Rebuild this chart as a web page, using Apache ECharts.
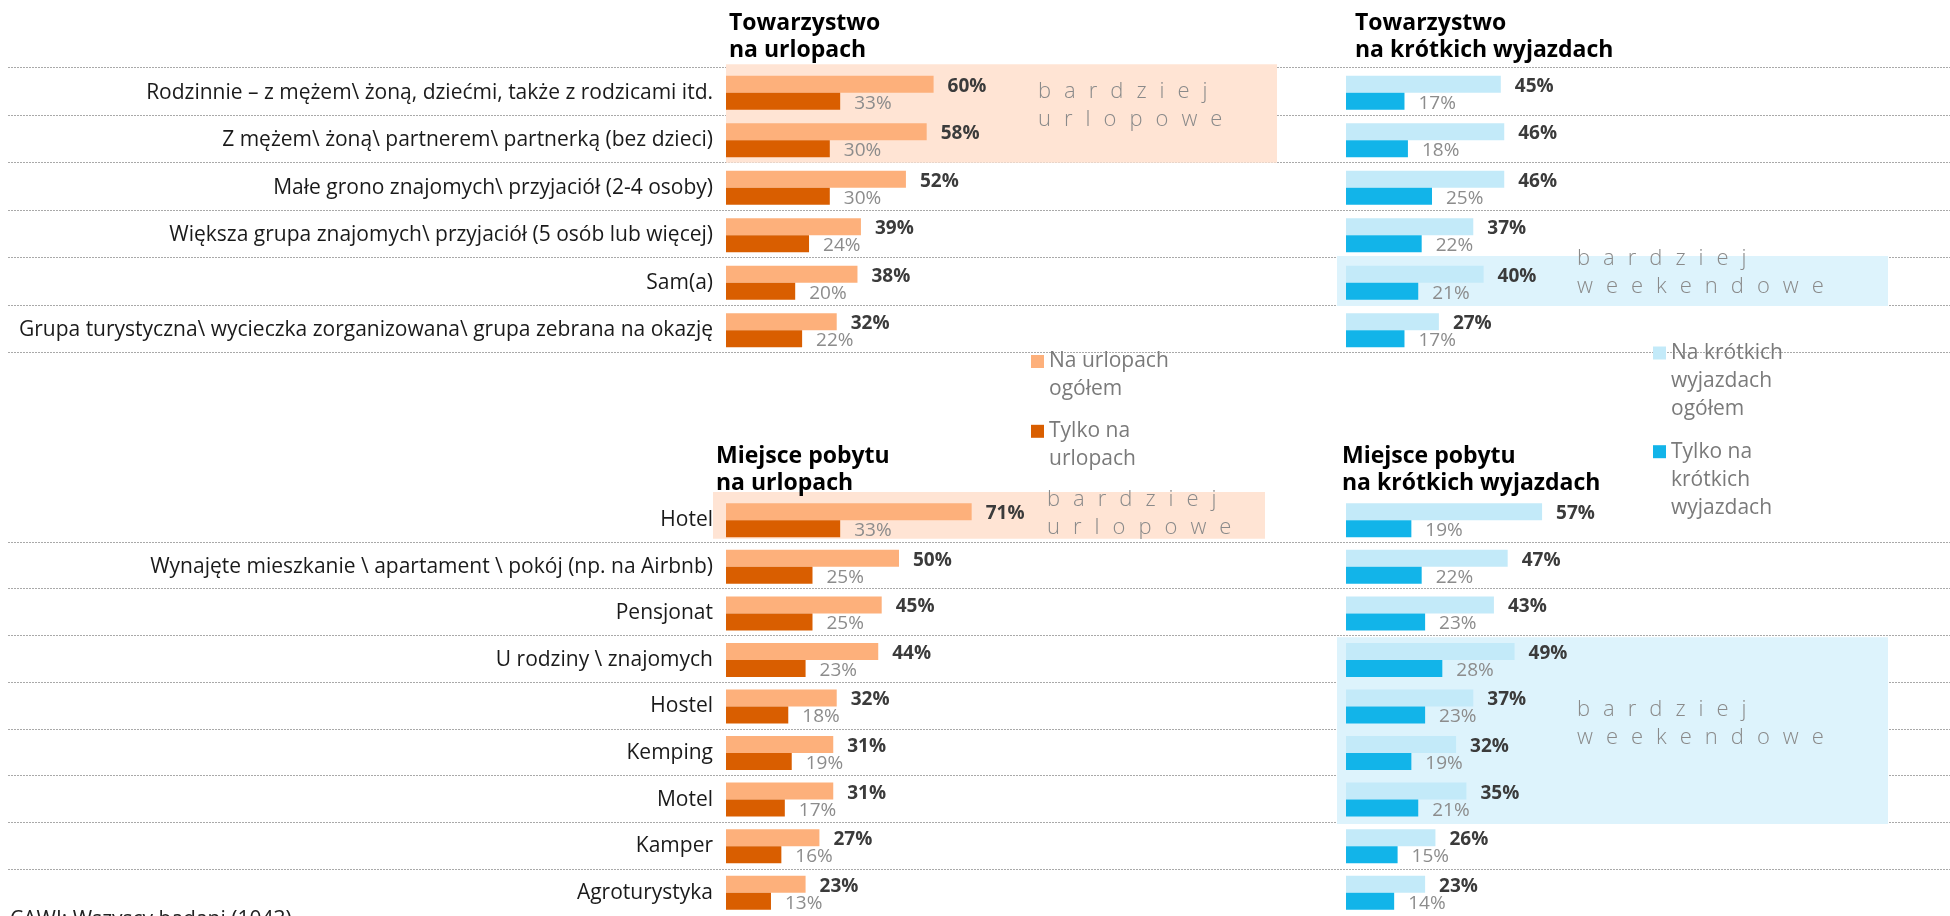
<!DOCTYPE html>
<html>
<head>
<meta charset="utf-8">
<script src="https://cdn.jsdelivr.net/npm/echarts@6/dist/echarts.min.js"></script>
<style>
html, body { margin: 0; padding: 0; background: #fff; }
#main { width: 1950px; height: 916px; }
</style>
</head>
<body>
<div id="main"></div>
<script>
// kategorie - towarzystwo
var companyCats = [
  'Rodzinnie – z mężem\\ żoną, dziećmi, także z rodzicami itd.',
  'Z mężem\\ żoną\\ partnerem\\ partnerką (bez dzieci)',
  'Małe grono znajomych\\ przyjaciół (2-4 osoby)',
  'Większa grupa znajomych\\ przyjaciół (5 osób lub więcej)',
  'Sam(a)',
  'Grupa turystyczna\\ wycieczka zorganizowana\\ grupa zebrana na okazję'
];
var companyVacAll = [60, 58, 52, 39, 38, 32];
var companyVacOnly = [33, 30, 30, 24, 20, 22];
var companyShortAll = [45, 46, 46, 37, 40, 27];
var companyShortOnly = [17, 18, 25, 22, 21, 17];

// kategorie - miejsce pobytu
var placeCats = [
  'Hotel',
  'Wynajęte mieszkanie \\ apartament \\ pokój (np. na Airbnb)',
  'Pensjonat',
  'U rodziny \\ znajomych',
  'Hostel',
  'Kemping',
  'Motel',
  'Kamper',
  'Agroturystyka'
];
var placeVacAll = [71, 50, 45, 44, 32, 31, 31, 27, 23];
var placeVacOnly = [33, 25, 25, 23, 18, 19, 17, 16, 13];
var placeShortAll = [57, 47, 43, 49, 37, 32, 35, 26, 23];
var placeShortOnly = [19, 22, 23, 28, 23, 19, 21, 15, 14];

var seriesNames = ['Na urlopach ogółem', 'Tylko na urlopach', 'Na krótkich wyjazdach ogółem', 'Tylko na krótkich wyjazdach'];
// puste linie na początku, żeby ikona stała przy pierwszej linii
var legendTexts = {
  'Na urlopach ogółem': ' \nNa urlopach\nogółem',
  'Tylko na urlopach': ' \nTylko na\nurlopach',
  'Na krótkich wyjazdach ogółem': ' \n \nNa krótkich\nwyjazdach\nogółem',
  'Tylko na krótkich wyjazdach': ' \n \nTylko na\nkrótkich\nwyjazdach'
};

var FONT = 'Open Sans';
var colors = ['#FDB07B', '#D95E00', '#C3EAF9', '#12B4E9'];

var chart = echarts.init(document.getElementById('main'), null, { renderer: 'canvas' });

function barAxis(cats, gridIndex, showLabels) {
  return {
    type: 'category',
    gridIndex: gridIndex,
    data: cats,
    inverse: true,
    z: 4,
    axisLine: { show: false },
    axisTick: { show: false },
    splitLine: { show: false },
    axisLabel: {
      show: showLabels,
      margin: 13,
      fontSize: 21,
      fontFamily: FONT,
      color: '#1a1a1a'
    }
  };
}

function sepAxis(cats, gridIndex, showMin) {
  return {
    type: 'category',
    gridIndex: gridIndex,
    data: cats,
    inverse: true,
    z: 0,
    axisLine: { show: false },
    axisTick: { show: false },
    axisLabel: { show: false },
    splitLine: {
      show: true,
      showMinLine: showMin,
      lineStyle: { color: '#a9a9a9', width: 1, type: [2, 1] }
    }
  };
}

function valAxis(gridIndex) {
  return { type: 'value', gridIndex: gridIndex, min: 0, max: 100, show: false };
}

function bars(name, data, axisIndex, color, strong) {
  return {
    name: name,
    type: 'bar',
    xAxisIndex: axisIndex,
    yAxisIndex: axisIndex,
    data: data,
    barWidth: 17,
    barGap: '0%',
    itemStyle: { color: color },
    label: {
      show: true,
      position: 'right',
      distance: 14,
      offset: [0, 2],
      formatter: '{c}%',
      fontFamily: FONT,
      fontSize: 19,
      fontWeight: strong ? 'bold' : 'normal',
      color: strong ? '#3b3b3b' : '#8c8c8c'
    },
    emphasis: { disabled: true }
  };
}

function legendBox(name, left, top) {
  return {
    data: [name],
    left: left,
    top: top,
    orient: 'vertical',
    icon: 'rect',
    itemWidth: 13,
    itemHeight: 13,
    padding: 0,
    selectedMode: false,
    formatter: function (n) { return legendTexts[n]; },
    textStyle: {
      fontFamily: FONT,
      fontSize: 21,
      lineHeight: 28,
      color: '#7a7a7a'
    }
  };
}

function titleBox(text, left, top) {
  return {
    text: text,
    left: left,
    top: top,
    padding: 0,
    textStyle: {
      fontFamily: FONT,
      fontWeight: 'bold',
      fontSize: 23,
      lineHeight: 27,
      color: '#000'
    }
  };
}

// rozstrzelony napis: każda litera osobno z odstępem
function spaced(word) {
  return word.split('').map(function (ch) { return '{s|' + ch + '}'; }).join('');
}

function note(lines, x, y) {
  return {
    type: 'text',
    z: 5,
    style: {
      text: lines.map(spaced).join('\n'),
      x: x,
      y: y,
      verticalAlign: 'top',
      rich: {
        s: {
          fill: '#8a8a8a',
          fontFamily: FONT,
          fontSize: 22,
          fontWeight: 300,
          lineHeight: 28,
          padding: [0, 13, 0, 0]
        }
      }
    }
  };
}

function box(x, y, w, h, fill) {
  return { type: 'rect', z: 1, shape: { x: x, y: y, width: w, height: h }, style: { fill: fill } };
}

var option = {
  backgroundColor: '#fff',
  animation: false,
  textStyle: { fontFamily: FONT },
  title: [
    titleBox('Towarzystwo\nna urlopach', 729, 10),
    titleBox('Towarzystwo\nna krótkich wyjazdach', 1355, 10),
    titleBox('Miejsce pobytu\nna urlopach', 716, 443),
    titleBox('Miejsce pobytu\nna krótkich wyjazdach', 1342, 443)
  ],
  legend: [
    legendBox(seriesNames[0], 1031, 319.5),
    legendBox(seriesNames[1], 1031, 389.3),
    legendBox(seriesNames[2], 1653, 283),
    legendBox(seriesNames[3], 1653, 381.7)
  ],
  grid: [
    { left: 726, top: 69, width: 346, height: 285 },
    { left: 1346, top: 69, width: 344, height: 285 },
    { left: 726, top: 497, width: 346, height: 428.1 },
    { left: 1346, top: 497, width: 344, height: 428.1 },
    { left: 8, right: 0, top: 67.7, height: 285 },
    { left: 8, right: 0, top: 495.1, height: 428.1 }
  ],
  xAxis: [valAxis(0), valAxis(1), valAxis(2), valAxis(3), valAxis(4), valAxis(5)],
  yAxis: [
    barAxis(companyCats, 0, true),
    barAxis(companyCats, 1, false),
    barAxis(placeCats, 2, true),
    barAxis(placeCats, 3, false),
    sepAxis(companyCats, 4, true),
    sepAxis(placeCats, 5, false)
  ],
  series: [
    bars(seriesNames[0], companyVacAll, 0, colors[0], true),
    bars(seriesNames[1], companyVacOnly, 0, colors[1], false),
    bars(seriesNames[2], companyShortAll, 1, colors[2], true),
    bars(seriesNames[3], companyShortOnly, 1, colors[3], false),
    bars(seriesNames[0], placeVacAll, 2, colors[0], true),
    bars(seriesNames[1], placeVacOnly, 2, colors[1], false),
    bars(seriesNames[2], placeShortAll, 3, colors[2], true),
    bars(seriesNames[3], placeShortOnly, 3, colors[3], false)
  ],
  graphic: [
    // tła wyróżnień
    box(726, 64.3, 551, 98.4, '#FFE4D4'),
    box(1337, 256, 551, 50, '#DDF3FC'),
    box(713, 492, 552, 46.7, '#FFE4D4'),
    box(1337, 637.3, 551, 186.7, '#DDF3FC'),
    note(['bardziej', 'urlopowe'], 1038, 78),
    note(['bardziej', 'weekendowe'], 1577, 245),
    note(['bardziej', 'urlopowe'], 1047, 486),
    note(['bardziej', 'weekendowe'], 1577, 696),
    {
      type: 'text',
      z: 5,
      style: {
        text: 'CAWI; Wszyscy badani (1043)',
        x: 10, y: 920,
        fill: '#222',
        fontFamily: FONT,
        fontSize: 21,
        verticalAlign: 'middle'
      }
    }
  ]
};

chart.setOption(option);
</script>
</body>
</html>
